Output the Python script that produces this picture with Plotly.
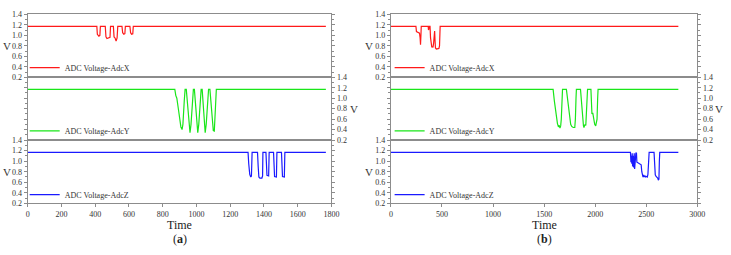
import plotly.graph_objects as go

# ---------------- data ----------------
# Panel (a)
a_x_t = [0, 410, 413, 418, 422, 428, 431, 460, 464, 470, 484, 488, 491, 508, 512, 518, 524, 530, 534, 559, 563, 570, 576, 579, 606, 610, 616, 623, 626, 1767]
a_x_v = [1.17, 1.17, 1.02, 0.99, 0.985, 1.0, 1.17, 1.17, 0.97, 0.94, 0.945, 0.96, 1.17, 1.17, 0.97, 0.95, 0.89, 0.95, 1.17, 1.17, 1.05, 1.02, 1.03, 1.17, 1.17, 1.05, 1.02, 1.03, 1.17, 1.17]

a_y_t = [0, 872, 878, 884, 895, 908, 915, 920, 928, 933, 940, 948, 955, 962, 968, 976, 982, 988, 996, 1002, 1008, 1014, 1022, 1028, 1034, 1040, 1046, 1052, 1058, 1066, 1072, 1080, 1086, 1094, 1100, 1106, 1112, 1118, 1767]
a_y_v = [1.17, 1.17, 1.05, 1.0, 0.75, 0.45, 0.40, 0.5, 0.95, 1.17, 1.17, 0.85, 0.5, 0.34, 0.5, 0.95, 1.17, 1.17, 0.8, 0.5, 0.34, 0.5, 0.95, 1.17, 1.17, 0.9, 0.5, 0.34, 0.5, 0.95, 1.17, 1.17, 0.9, 0.5, 0.38, 0.37, 0.7, 1.17, 1.17]

a_z_t = [0, 1306, 1310, 1316, 1322, 1326, 1330, 1362, 1366, 1370, 1376, 1388, 1392, 1394, 1412, 1415, 1418, 1428, 1431, 1457, 1460, 1463, 1474, 1477, 1504, 1507, 1510, 1521, 1524, 1767]
a_z_v = [1.165, 1.165, 0.95, 0.75, 0.70, 0.72, 1.165, 1.165, 0.90, 0.70, 0.68, 0.68, 0.72, 1.165, 1.165, 0.9, 0.73, 0.72, 1.165, 1.165, 0.9, 0.71, 0.70, 1.165, 1.165, 0.9, 0.71, 0.70, 1.165, 1.165]

# Panel (b)
b_x_t = [0, 245, 250, 265, 280, 286, 290, 294, 297, 365, 368, 371, 374, 383, 388, 395, 400, 408, 412, 418, 424, 428, 432, 436, 445, 460, 470, 476, 482, 2814]
b_x_v = [1.17, 1.17, 1.07, 1.06, 1.04, 0.95, 0.82, 1.0, 1.17, 1.17, 1.10, 1.12, 1.17, 1.17, 0.95, 0.80, 0.78, 0.78, 0.77, 0.85, 1.0, 1.08, 0.9, 0.76, 0.74, 0.74, 0.75, 0.8, 1.17, 1.17]

b_y_t = [0, 1588, 1600, 1615, 1630, 1640, 1648, 1655, 1662, 1668, 1675, 1680, 1718, 1730, 1745, 1760, 1770, 1785, 1800, 1806, 1812, 1816, 1856, 1866, 1875, 1885, 1890, 1900, 1908, 1915, 1920, 1925, 1958, 1963, 1968, 1976, 1985, 1995, 2005, 2012, 2018, 2024, 2028, 2814]
b_y_v = [1.17, 1.17, 0.95, 0.7, 0.52, 0.45, 0.48, 0.43, 0.47, 0.6, 1.0, 1.17, 1.17, 0.95, 0.65, 0.5, 0.46, 0.44, 0.44, 0.6, 1.0, 1.17, 1.17, 0.85, 0.6, 0.47, 0.44, 0.5, 0.48, 0.7, 1.0, 1.17, 1.17, 0.9, 0.7, 0.72, 0.55, 0.5, 0.47, 0.52, 0.6, 1.0, 1.17, 1.17]

b_z_t = [0, 2345, 2350, 2355, 2358, 2362, 2366, 2372, 2376, 2382, 2386, 2392, 2398, 2404, 2408, 2418, 2428, 2440, 2450, 2456, 2462, 2468, 2474, 2480, 2488, 2494, 2502, 2510, 2516, 2522, 2528, 2576, 2582, 2588, 2596, 2604, 2612, 2618, 2624, 2628, 2632, 2814]
b_z_v = [1.165, 1.165, 0.98, 1.1, 0.95, 1.15, 0.9, 1.1, 0.88, 1.15, 0.85, 1.1, 1.15, 1.15, 0.98, 0.97, 0.96, 0.94, 0.93, 0.80, 0.75, 0.70, 0.74, 0.70, 0.72, 0.70, 0.71, 0.70, 0.75, 1.0, 1.165, 1.165, 0.85, 0.74, 0.71, 0.70, 0.68, 0.64, 0.66, 1.0, 1.165, 1.165]

names = ["ADC Voltage-AdcX", "ADC Voltage-AdcY", "ADC Voltage-AdcZ"]
colors = ["#ff1a1a", "#19e619", "#1a1aff"]

a_ticks = [0, 200, 400, 600, 800, 1000, 1200, 1400, 1600, 1800]
b_ticks = [0, 500, 1000, 1500, 2000, 2500, 3000]
y_ticks = [0.2, 0.4, 0.6, 0.8, 1.0, 1.2, 1.4]

# ---------------- layout helpers ----------------
W, H = 731, 255
FONT = "Liberation Serif"
GRAY = "#8c8c8c"
TXT = "#333333"

def px(v):
    return v / W

def py(v):
    return 1 - v / H

col_dom = [(px(26), px(334)), (px(394.3), px(705))]
row_dom = [(py(76), py(10.7)), (py(141), py(76)), (py(206.7), py(141))]

series = [
    [(a_x_t, a_x_v), (a_y_t, a_y_v), (a_z_t, a_z_v)],
    [(b_x_t, b_x_v), (b_y_t, b_y_v), (b_z_t, b_z_v)],
]
xranges = [[0, 1800], [0, 3000]]
xticks = [a_ticks, b_ticks]
leg_x = [px(23), px(393)]
leg_y = [py(66), py(131.5), py(197.5)]

fig = go.Figure()
layout = dict(
    width=W, height=H, margin=dict(l=0, r=0, t=0, b=0),
    paper_bgcolor="white", plot_bgcolor="white",
    font=dict(family=FONT, color=TXT, size=8),
    annotations=[],
)

k = 0
for c in range(2):
    for r in range(3):
        k += 1
        sfx = "" if k == 1 else str(k)
        t, v = series[c][r]
        legname = "legend" if k == 1 else f"legend{k}"
        fig.add_trace(go.Scatter(
            x=t, y=v, mode="lines", name=names[r],
            line=dict(color=colors[r], width=1.2),
            xaxis="x" + sfx, yaxis="y" + sfx, legend=legname,
            showlegend=True,
        ))
        layout[legname] = dict(
            x=leg_x[c], y=leg_y[r], xanchor="left", yanchor="middle",
            bgcolor="rgba(0,0,0,0)", font=dict(size=8, family=FONT, color=TXT),
            itemwidth=30, tracegroupgap=0,
        )
        bottom = (r == 2)
        xa = dict(
            domain=list(col_dom[c]), range=xranges[c], anchor="y" + sfx,
            showline=True, linecolor=GRAY, linewidth=1, mirror=True,
            showgrid=False, zeroline=False,
        )
        if bottom:
            xa.update(
                tickmode="array", tickvals=xticks[c], ticks="outside", ticklen=3,
                tickcolor=GRAY, showticklabels=True,
                tickfont=dict(size=8, family=FONT, color=TXT),
            )
        else:
            xa.update(showticklabels=False, ticks="")
        layout["xaxis" + sfx] = xa
        ya = dict(
            domain=list(row_dom[r]), range=[0.2, 1.4], anchor="x" + sfx,
            showline=True, linecolor=GRAY, linewidth=1, mirror="ticks",
            showgrid=False, zeroline=False,
            tickmode="array", tickvals=y_ticks, tickformat=".1f",
            ticks="outside", ticklen=3, tickcolor=GRAY,
            minor=dict(ticks="outside", ticklen=2, dtick=0.1, tick0=0.2, tickcolor=GRAY),
            tickfont=dict(size=8, family=FONT, color=TXT),
            side="right" if r == 1 else "left",
            showticklabels=True,
        )
        layout["yaxis" + sfx] = ya
        # "V" unit label beside the 0.8 tick
        if r == 1:
            vx = px(351) if c == 0 else px(721)
            xanc = "left"
        else:
            vx = px(11) if c == 0 else px(378)
            xanc = "right"
        layout["annotations"].append(dict(
            text="V", x=vx, y=0.8, xref="paper", yref="y" + sfx,
            showarrow=False, xanchor=xanc, yanchor="middle",
            font=dict(size=11, family=FONT, color=TXT),
        ))

for c, lab in enumerate(["a", "b"]):
    mid = (col_dom[c][0] + col_dom[c][1]) / 2
    layout["annotations"].append(dict(
        text="Time", x=mid, y=py(219.5), xref="paper", yref="paper",
        showarrow=False, xanchor="center", yanchor="top",
        font=dict(size=12, family=FONT, color="#222222"),
    ))
    layout["annotations"].append(dict(
        text=f"(<b>{lab}</b>)", x=mid, y=py(244),
        xref="paper", yref="paper", showarrow=False, xanchor="center", yanchor="middle",
        font=dict(size=12, family=FONT, color="#222222"),
    ))

fig.update_layout(**layout)
fig.write_html("out.html")
